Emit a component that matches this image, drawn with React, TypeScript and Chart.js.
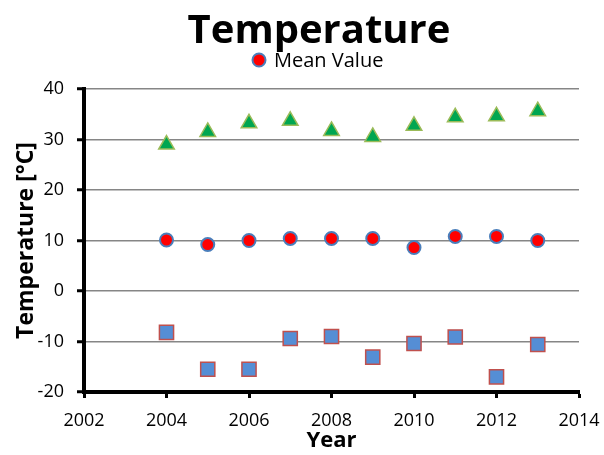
import React, { useEffect, useRef } from "react";
import { Chart, registerables } from "chart.js";

Chart.register(...registerables);

const chartTitle = "Temperature";
const xTitle = "Year";
const yTitle = "Temperature [°C]";
const years = [2004, 2005, 2006, 2007, 2008, 2009, 2010, 2011, 2012, 2013];
const maxValues = [29.0, 31.5, 33.2, 33.7, 31.7, 30.5, 32.7, 34.4, 34.6, 35.6];
const meanValues = [10.1, 9.2, 10.0, 10.4, 10.4, 10.4, 8.6, 10.8, 10.8, 10.0];
const minValues = [-8.2, -15.5, -15.5, -9.4, -9.0, -13.1, -10.4, -9.1, -17.0, -10.6];
const xMin = 2002;
const xMax = 2014;
const yMin = -20;
const yMax = 40;

const FONT = "'Open Sans', 'DejaVu Sans', sans-serif";

const headerPlugin = {
  id: "header",
  afterDraw(chart: any) {
    const ctx = chart.ctx;
    ctx.save();
    ctx.fillStyle = "#000";
    ctx.font = `bold 40px ${FONT}`;
    ctx.textAlign = "center";
    ctx.textBaseline = "alphabetic";
    ctx.fillText(chartTitle, 319, 43);
    const ds = chart.data.datasets[1];
    ctx.beginPath();
    ctx.arc(259, 60, 6.5, 0, Math.PI * 2);
    ctx.fillStyle = ds.backgroundColor;
    ctx.fill();
    ctx.lineWidth = 2;
    ctx.strokeStyle = ds.borderColor;
    ctx.stroke();
    ctx.fillStyle = "#000";
    ctx.font = `20px ${FONT}`;
    ctx.textAlign = "left";
    ctx.fillText(ds.label, 274, 67);
    ctx.restore();
  },
};

export default function App() {
  const ref = useRef<HTMLCanvasElement>(null);
  useEffect(() => {
    if (!ref.current) return;
    const toPts = (vals: number[]) => years.map((x, i) => ({ x, y: vals[i] }));
    const chart = new Chart(ref.current, {
      type: "scatter",
      data: {
        datasets: [
          {
            label: "Max Value",
            data: toPts(maxValues),
            pointStyle: "triangle",
            pointRadius: 9,
            backgroundColor: "#00A651",
            borderColor: "#9BBB59",
            borderWidth: 1.5,
          },
          {
            label: "Mean Value",
            data: toPts(meanValues),
            pointStyle: "circle",
            pointRadius: 6.5,
            backgroundColor: "#FF0000",
            borderColor: "#4A7EBB",
            borderWidth: 2,
          },
          {
            label: "Min Value",
            data: toPts(minValues),
            pointStyle: "rect",
            pointRadius: 10,
            backgroundColor: "#558ED5",
            borderColor: "#C0504D",
            borderWidth: 1.5,
          },
        ],
      },
      options: {
        responsive: false,
        animation: false,
        layout: { padding: { top: 89, right: 25, left: 0, bottom: 0 } },
        plugins: {
          legend: { display: false },
          title: { display: false },
          tooltip: { enabled: false },
        },
        scales: {
          x: {
            type: "linear",
            min: xMin,
            max: xMax,
            afterFit: (s: any) => {
              s.height = 63;
              s.paddingLeft = 0;
              s.paddingRight = 0;
            },
            ticks: {
              stepSize: 2,
              color: "#000",
              font: { family: FONT, size: 18 },
              padding: 12,
              callback: (v: any) => String(v),
            },
            grid: {
              drawOnChartArea: false,
              drawTicks: true,
              tickLength: 6,
              tickWidth: 3,
              tickColor: "#000",
            },
            border: { color: "#000", width: 4 },
            title: {
              display: true,
              text: xTitle,
              color: "#000",
              font: { family: FONT, size: 22, weight: "bold" },
              padding: { top: 0, bottom: 1 },
            },
          },
          y: {
            min: yMin,
            max: yMax,
            afterFit: (s: any) => {
              s.width = 84;
            },
            ticks: {
              stepSize: 10,
              color: "#000",
              font: { family: FONT, size: 18 },
              padding: 13,
            },
            grid: {
              color: "#868686",
              lineWidth: 1.5,
              drawTicks: true,
              tickLength: 7,
              tickWidth: 3,
              tickColor: "#000",
            },
            border: { color: "#000", width: 4 },
            title: {
              display: true,
              text: yTitle,
              color: "#000",
              font: { family: FONT, size: 23, weight: "bold" },
              padding: { top: 13, bottom: 0 },
            },
          },
        },
      },
      plugins: [headerPlugin],
    } as any);
    return () => chart.destroy();
  }, []);
  return (
    <div style={{ position: "absolute", left: 0, top: 0, width: 604, height: 455, background: "#fff" }}>
      <canvas ref={ref} width={604} height={455} style={{ display: "block" }} />
    </div>
  );
}
